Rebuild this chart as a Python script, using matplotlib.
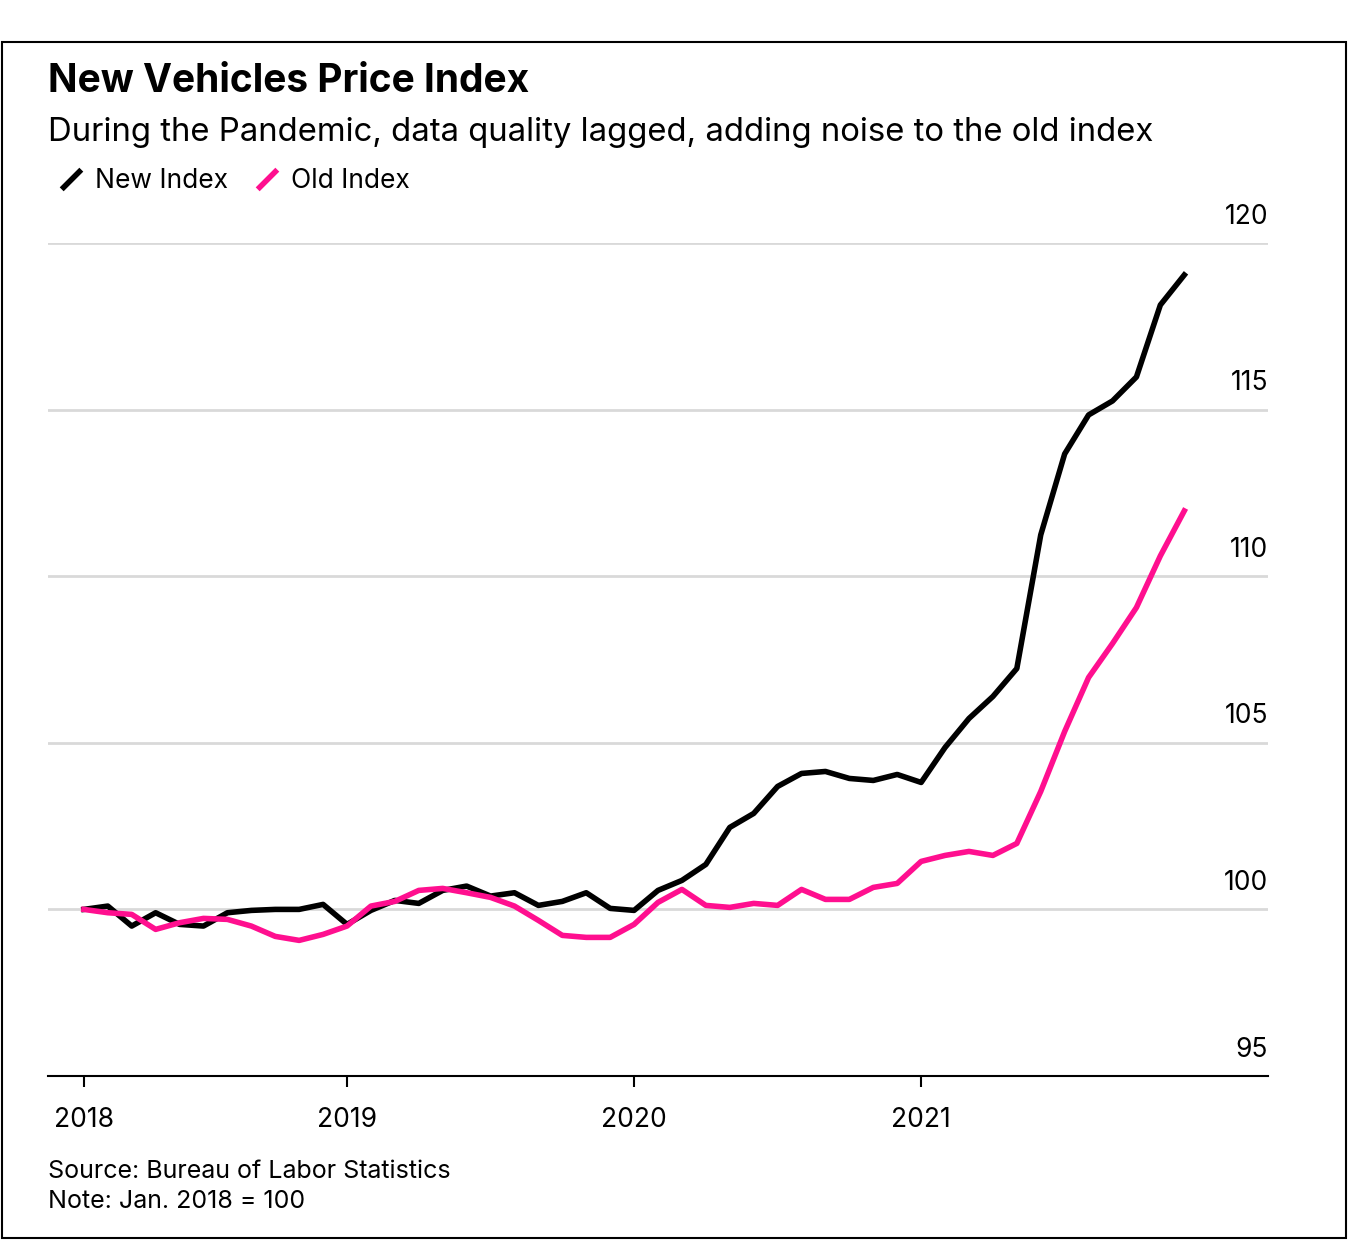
import matplotlib.pyplot as plt
from matplotlib.lines import Line2D
from matplotlib.patches import Rectangle

plt.rcParams['font.family'] = ['Inter', 'DejaVu Sans']

# monthly values, Jan 2018 onward
new_index = [100, 100.1, 99.5, 99.9, 99.55, 99.5, 99.9, 99.97, 100, 100, 100.15, 99.55,
             99.97, 100.27, 100.18, 100.57, 100.7, 100.4, 100.5, 100.12, 100.24, 100.5, 100.03, 99.97,
             100.57, 100.87, 101.35, 102.46, 102.88, 103.69, 104.08, 104.14, 103.93, 103.87, 104.05, 103.81,
             104.86, 105.73, 106.39, 107.23, 111.24, 113.67, 114.84, 115.26, 115.98, 118.14, 119.04]
old_index = [100, 99.9, 99.85, 99.4, 99.6, 99.73, 99.7, 99.5, 99.19, 99.07, 99.25, 99.5,
             100.1, 100.24, 100.57, 100.63, 100.5, 100.36, 100.1, 99.67, 99.22, 99.16, 99.16, 99.55,
             100.21, 100.6, 100.12, 100.06, 100.18, 100.12, 100.6, 100.3, 100.3, 100.66, 100.78, 101.44,
             101.62, 101.74, 101.62, 101.98, 103.54, 105.34, 106.96, 107.98, 109.06, 110.61, 111.96]
year_pos = [0, 11, 23, 35]
year_labels = ['2018', '2019', '2020', '2021']
y_ticks = [95, 100, 105, 110, 115, 120]

fig = plt.figure(figsize=(13.48, 12.4), dpi=100)
fig.patches.append(Rectangle((0.0015, 0.002), 0.997, 0.964, transform=fig.transFigure,
                             fill=False, edgecolor='black', linewidth=1.5))
ax = fig.add_axes([48/1348, 1 - 1076/1240, 1220/1348, 833/1240])

x = range(len(new_index))
ax.plot(x, new_index, color='black', linewidth=4)
ax.plot(x, old_index, color='#ff0f8f', linewidth=4)

ax.set_xlim(-1.5, 49.5)
ax.set_ylim(95, 120)
for v in y_ticks[1:]:
    ax.axhline(v, color='#d9d9d9', linewidth=2, zorder=0)
for v in y_ticks:
    ax.text(1.0, v + 0.4, str(v), transform=ax.get_yaxis_transform(), ha='right', va='bottom', fontsize=19)
ax.set_yticks([])
for s in ['top', 'right', 'left']:
    ax.spines[s].set_visible(False)
ax.spines['bottom'].set_linewidth(1.5)
ax.set_xticks(year_pos)
ax.set_xticklabels(year_labels, fontsize=19)
ax.tick_params(axis='x', length=8, width=1.5, pad=14)

fig.text(48/1348, 1 - 82/1240, 'New Vehicles Price Index', fontsize=28, fontweight='bold', va='center')
fig.text(48/1348, 1 - 132/1240, 'During the Pandemic, data quality lagged, adding noise to the old index',
         fontsize=23.7, va='center')
handles = [Line2D([], [], color='black', linestyle='none', marker=(2, 0, -45), markersize=20, markeredgewidth=4),
           Line2D([], [], color='#ff0f8f', linestyle='none', marker=(2, 0, -45), markersize=20, markeredgewidth=4)]
fig.legend(handles, ['New Index', 'Old Index'], loc='center left', bbox_to_anchor=(34/1348, 1 - 181/1240),
           ncol=2, frameon=False, fontsize=19, handlelength=1.0, handletextpad=0.4, columnspacing=1.0)
fig.text(48/1348, 1 - 1171/1240, 'Source: Bureau of Labor Statistics', fontsize=18, va='center')
fig.text(48/1348, 1 - 1201/1240, 'Note: Jan. 2018 = 100', fontsize=18, va='center')

fig.savefig('out.png', dpi=100)
